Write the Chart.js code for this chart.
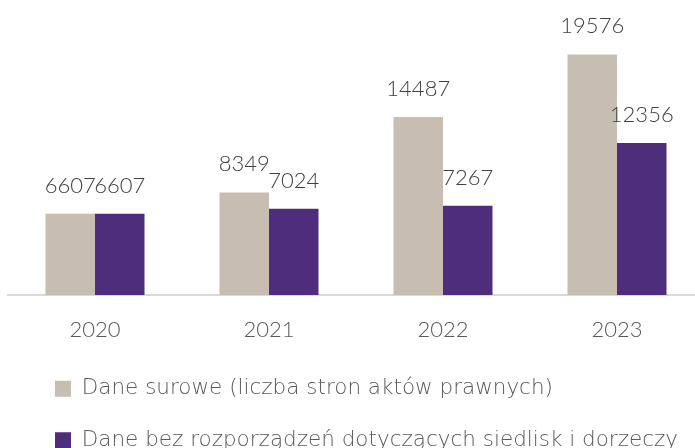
<!DOCTYPE html>
<html>
<head>
<meta charset="utf-8">
<script src="https://cdn.jsdelivr.net/npm/chart.js@4"></script>
<style>
  html, body { margin: 0; padding: 0; background: #fff; overflow: hidden; }
  #wrap { width: 695px; height: 448px; overflow: hidden; position: relative; }
  #box { width: 704px; height: 461px; position: absolute; left: 0; top: 0; }
</style>
</head>
<body>
<div id="wrap"><div id="box"><canvas id="c"></canvas></div></div>
<script>
const categories = ["2020", "2021", "2022", "2023"];
const seriesNames = [
  "Dane surowe (liczba stron aktów prawnych)",
  "Dane bez rozporządzeń dotyczących siedlisk i dorzeczy"
];
const rawValues = [6607, 8349, 14487, 19576];
const filteredValues = [6607, 7024, 7267, 12356];
const colors = ["#c7bdb0", "#4f2d7d"];

const FONT = "Lato, 'Open Sans', sans-serif";
const LEGEND_FONT = "'DejaVu Sans', sans-serif";

const valueLabels = {
  id: "valueLabels",
  afterDatasetsDraw(chart) {
    const ctx = chart.ctx;
    ctx.save();
    ctx.font = "300 22px " + FONT;
    ctx.fillStyle = "#404040";
    ctx.textAlign = "center";
    ctx.textBaseline = "alphabetic";
    chart.data.datasets.forEach((ds, di) => {
      const meta = chart.getDatasetMeta(di);
      meta.data.forEach((bar, i) => {
        ctx.fillText(String(ds.data[i]), bar.x, bar.y - 21);
      });
    });
    ctx.restore();
  }
};

const legendShift = {
  id: "legendShift",
  afterLayout(chart) {
    if (chart.legend) {
      chart.legend.left += 17;
      chart.legend.right += 17;
    }
  }
};

new Chart(document.getElementById("c"), {
  type: "bar",
  data: {
    labels: categories,
    datasets: [
      { label: seriesNames[0], data: rawValues, backgroundColor: colors[0] },
      { label: seriesNames[1], data: filteredValues, backgroundColor: colors[1] }
    ]
  },
  options: {
    responsive: true,
    maintainAspectRatio: false,
    animation: false,
    layout: { padding: { left: 8, right: 0, top: 0, bottom: 0 } },
    datasets: { bar: { categoryPercentage: 0.569, barPercentage: 1.0 } },
    scales: {
      x: {
        grid: { display: false },
        border: { display: true, color: "#d9d9d9", width: 2 },
        ticks: { color: "#595959", font: { family: FONT, size: 22, weight: 300 }, padding: 14 },
        afterFit(scale) { scale.height = 53; }
      },
      y: {
        display: false,
        min: 0,
        max: 24000
      }
    },
    plugins: {
      legend: {
        position: "bottom",
        align: "start",
        labels: {
          color: "#595959",
          font: { family: LEGEND_FONT, size: 21.5, weight: 200 },
          boxWidth: 16,
          boxHeight: 16,
          padding: 30
        }
      },
      tooltip: { enabled: false }
    }
  },
  plugins: [valueLabels, legendShift]
});
</script>
</body>
</html>
